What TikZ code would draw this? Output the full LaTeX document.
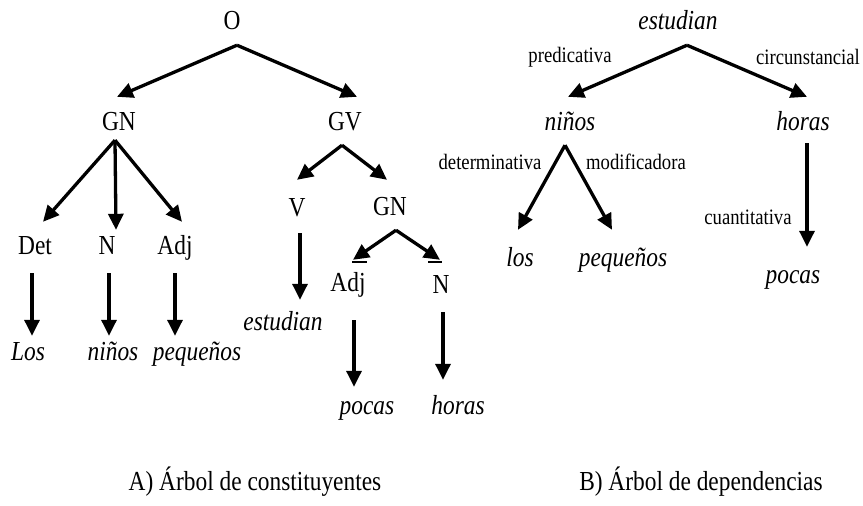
\documentclass[tikz,border=0pt]{standalone}
\usepackage{fontspec}
\setmainfont{Liberation Serif}[FakeStretch=0.85]
\usetikzlibrary{arrows.meta}
\begin{document}
\begin{tikzpicture}[x=1pt,y=-1pt,
  wd/.style={inner sep=0pt,text height=18.5pt,text depth=2.5pt,font=\fontsize{27.5}{32}\selectfont},
  iw/.style={wd,font=\fontsize{27.5}{32}\selectfont\itshape},
  rel/.style={inner sep=0pt,font=\fontsize{22}{25}\selectfont},
  captext/.style={inner sep=0pt,font=\fontsize{27.5}{32}\selectfont},
  arr/.style={line width=3.3pt,-{Triangle[length=16pt,width=15pt]}},
  bar/.style={line width=2pt}]
\useasboundingbox (0,0) rectangle (863,506);

% --- constituent tree ---
\node[wd] (o)    at (232,22)  {O};
\node[wd] (gn1)  at (119,122) {GN};
\node[wd] (gv)   at (345,122) {GV};
\node[wd] (det)  at (35,246)  {Det};
\node[wd] (n1)   at (107,246) {N};
\node[wd] (adj1) at (175,246) {Adj};
\node[wd] (v)    at (297,208) {V};
\node[wd] (gn2)  at (390,207) {GN};
\node[wd] (adj2) at (348,283) {Adj};
\node[wd] (n2)   at (441,285) {N};
\node[iw] (los1) at (28,352)  {Los};
\node[iw] (nin1) at (113,352) {niños};
\node[iw] (peq1) at (197,352) {pequeños};
\node[iw] (est1) at (283,322) {estudian};
\node[iw] (poc1) at (367,406) {pocas};
\node[iw] (hor1) at (458,406) {horas};

\draw[arr] ([shift={(5,12.5)}]o.south) -- ([shift={(-2,-14.5)}]gn1.north);
\draw[arr] ([shift={(5,12.5)}]o.south) -- ([shift={(12,-14.5)}]gv.north);
\draw[arr] ([shift={(-4,7.5)}]gn1.south) -- ([shift={(8,-13.5)}]det.north);
\draw[arr] ([shift={(-4,7.5)}]gn1.south) -- ([shift={(9,-5.5)}]n1.north);
\draw[arr] ([shift={(-4,7.5)}]gn1.south) -- ([shift={(7,-13.5)}]adj1.north);
\draw[arr] ([shift={(-3,16.5)}]det.south) -- ([shift={(4,-5.5)}]los1.north);
\draw[arr] ([shift={(2,16.5)}]n1.south) -- ([shift={(-4,-5.5)}]nin1.north);
\draw[arr] ([shift={(0,16.5)}]adj1.south) -- ([shift={(-22,-5.5)}]peq1.north);
\draw[arr] ([shift={(-3,12.5)}]gv.south) -- ([shift={(0,-17.5)}]v.north);
\draw[arr] ([shift={(-3,12.5)}]gv.south) -- ([shift={(-3,-16.5)}]gn2.north);
\draw[arr] ([shift={(3,14.5)}]v.south) -- ([shift={(17,-11.5)}]est1.north);
\draw[arr] ([shift={(6,12.5)}]gn2.south) -- ([shift={(5,-12.5)}]adj2.north);
\draw[arr] ([shift={(6,12.5)}]gn2.south) -- ([shift={(-1,-14.5)}]n2.north);
\draw[bar] ([shift={(4,-10.5)}]adj2.north) -- ++(15,0);
\draw[bar] ([shift={(-13,-12.5)}]n2.north) -- ++(14,0);
\draw[arr] ([shift={(6,26.5)}]adj2.south) -- ([shift={(-13,-8.5)}]poc1.north);
\draw[arr] ([shift={(2,16.5)}]n2.south) -- ([shift={(-15,-15.5)}]hor1.north);

% --- dependency tree ---
\node[iw] (est2) at (678,22)  {estudian};
\node[iw] (nin2) at (570,122) {niños};
\node[iw] (hor2) at (803,122) {horas};
\node[iw] (los2) at (520,258) {los};
\node[iw] (peq2) at (623,258) {pequeños};
\node[iw] (poc2) at (793,275) {pocas};

\node[rel] (lpred) at (570,57)  {predicativa};
\node[rel] (lcirc) at (808,57)  {circunstancial};
\node[rel] (ldet)  at (490,162) {determinativa};
\node[rel] (lmod)  at (636,162) {modificadora};
\node[rel] (lcuan) at (748,217) {cuantitativa};

\draw[arr] ([shift={(9,12.5)}]est2.south) -- ([shift={(-2,-14.5)}]nin2.north);
\draw[arr] ([shift={(9,12.5)}]est2.south) -- ([shift={(4,-14.5)}]hor2.north);
\draw[arr] ([shift={(-5,12.5)}]nin2.south) -- ([shift={(-2,-17.5)}]los2.north);
\draw[arr] ([shift={(-5,12.5)}]nin2.south) -- ([shift={(-11,-17.5)}]peq2.north);
\draw[arr] ([shift={(4,10.5)}]hor2.south) -- ([shift={(14,-17.5)}]poc2.north);

% --- captions ---
\node[captext] (capa) at (255,482) {A) Árbol de constituyentes};
\node[captext] (capb) at (701,482) {B) Árbol de dependencias};
\end{tikzpicture}
\end{document}
